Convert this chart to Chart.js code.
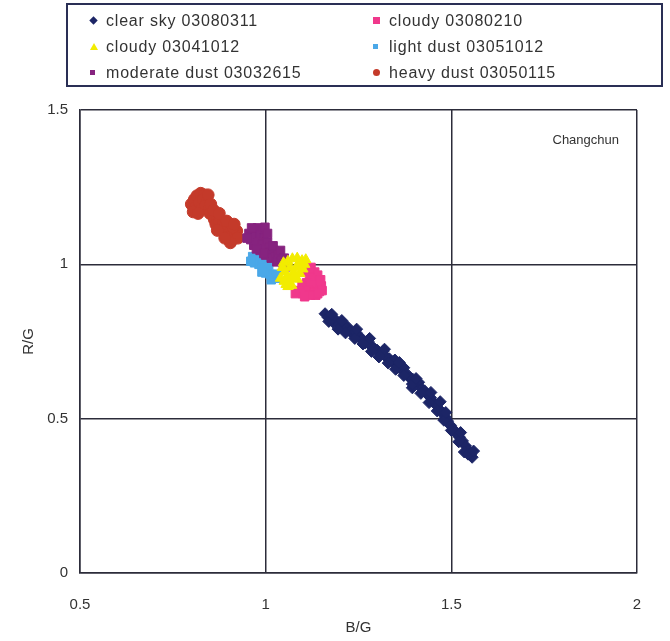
<!DOCTYPE html>
<html>
<head>
<meta charset="utf-8">
<script src="https://cdn.jsdelivr.net/npm/chart.js@4/dist/chart.umd.min.js"></script>
<style>
  body { margin: 0; background: #fff; }
  #wrap { position: relative; width: 670px; height: 641px; }
  #legend {
    position: absolute; left: 66px; top: 3px; width: 593px; height: 80px;
    border: 2px solid #2a2f55; box-sizing: content-box;
    font-family: "Liberation Sans", Arial, sans-serif; font-size: 16px; color: #333; letter-spacing: 0.8px;
  }
  .item { position: absolute; height: 18px; line-height: 18px; white-space: nowrap; }
  .mk { position: absolute; top: 5px; width: 7px; height: 7px; }
</style>
</head>
<body>
<div id="wrap">
  <canvas id="RatioChart" width="670" height="641"></canvas>
  <div id="legend"></div>
</div>
<script>
var seriesNames = ['clear sky 03080311', 'cloudy 03080210', 'cloudy 03041012', 'light dust 03051012', 'moderate dust 03032615', 'heavy dust 03050115'];
var seriesColors = ['#1c2566', '#f0388c', '#f2ec00', '#4aa8e8', '#86237f', '#c43a2a'];
var seriesStyles = ['rectRot', 'rect', 'triangle', 'rect', 'rect', 'circle'];
var seriesOrder = [0, 3, 1, 4, 2, 5];

// [B/G, R/G]
var clearSky = [[1.160,0.840],[1.168,0.828],[1.175,0.822],[1.182,0.812],[1.190,0.818],[1.198,0.805],[1.205,0.800],[1.212,0.792],[1.220,0.798],[1.228,0.782],[1.236,0.775],[1.244,0.778],[1.252,0.762],[1.260,0.758],[1.268,0.745],[1.276,0.750],[1.284,0.735],[1.292,0.728],[1.300,0.722],[1.308,0.712],[1.316,0.718],[1.324,0.700],[1.333,0.694],[1.340,0.685],[1.348,0.690],[1.356,0.668],[1.364,0.660],[1.372,0.665],[1.380,0.645],[1.388,0.632],[1.396,0.628],[1.404,0.612],[1.412,0.618],[1.420,0.598],[1.428,0.590],[1.436,0.578],[1.444,0.568],[1.452,0.552],[1.460,0.545],[1.468,0.530],[1.476,0.518],[1.484,0.505],[1.490,0.492],[1.498,0.478],[1.506,0.465],[1.514,0.452],[1.522,0.440],[1.530,0.428],[1.538,0.412],[1.546,0.398],[1.552,0.385],[1.556,0.375],[1.535,0.392],[1.470,0.555],[1.395,0.600],
  [1.170,0.815],[1.195,0.790],[1.215,0.778],[1.240,0.760],[1.262,0.742],[1.285,0.718],[1.305,0.700],[1.330,0.680],[1.350,0.660],[1.372,0.640],[1.395,0.612],[1.418,0.582],[1.440,0.552],[1.462,0.525],[1.480,0.495],[1.500,0.462],[1.520,0.425],[1.545,0.385],[1.560,0.395],[1.525,0.455],[1.485,0.520],[1.445,0.585],[1.405,0.630],[1.360,0.682],[1.320,0.725],[1.280,0.760],[1.245,0.790],[1.205,0.818],[1.178,0.838]];
var cloudyA = [[1.100,0.975],[1.112,0.985],[1.122,0.990],[1.132,0.975],[1.140,0.965],[1.118,0.960],[1.128,0.950],[1.145,0.945],[1.150,0.930],[1.138,0.925],[1.125,0.935],[1.110,0.940],[1.098,0.930],[1.090,0.915],[1.080,0.905],[1.100,0.905],[1.115,0.915],[1.130,0.910],[1.145,0.912],[1.135,0.900],[1.118,0.985],[1.148,0.950],[1.152,0.915],[1.140,0.905],[1.120,0.900],[1.105,0.895]];
var cloudyB = [[1.045,0.990],[1.052,0.975],[1.058,0.960],[1.050,0.945],[1.062,0.940],[1.070,0.955],[1.075,0.975],[1.082,0.990],[1.090,1.005],[1.098,1.012],[1.105,1.000],[1.100,0.985],[1.092,0.970],[1.085,0.952],[1.070,0.932],[1.060,0.928],[1.108,1.015],[1.048,1.005],[1.060,1.010],[1.072,1.018],[1.085,1.020],[1.095,0.995],[1.065,0.990],[1.078,0.965],[1.055,0.935],[1.040,0.955]];
var lightDust = [[0.965,1.025],[0.975,1.018],[0.970,1.005],[0.982,1.000],[0.990,1.010],[0.995,0.990],[1.005,0.985],[1.000,0.972],[1.012,0.968],[1.020,0.960],[1.028,0.955],[1.015,0.950],[0.985,1.030],[1.008,0.998],[0.960,1.010],[0.990,0.975],[1.030,0.968]];
var moderateDust = [[0.955,1.100],[0.965,1.112],[0.978,1.118],[0.990,1.110],[0.960,1.080],[0.972,1.090],[0.985,1.095],[0.995,1.085],[0.968,1.062],[0.980,1.070],[0.992,1.065],[1.005,1.072],[0.985,1.045],[0.998,1.050],[1.010,1.055],[1.000,1.030],[1.012,1.038],[1.022,1.045],[1.015,1.020],[1.028,1.025],[1.035,1.032],[1.030,1.008],[1.042,1.012],[1.048,1.000],[1.055,0.992],[1.020,1.060],[0.950,1.085],[0.962,1.118],[0.998,1.120],[1.005,1.100],[1.040,1.045],[1.050,1.020],[0.975,1.050],[0.995,1.035],[1.058,1.005]];
var heavyDust = [[0.800,1.195],[0.808,1.210],[0.815,1.222],[0.825,1.230],[0.835,1.225],[0.812,1.185],[0.822,1.200],[0.832,1.210],[0.842,1.205],[0.828,1.178],[0.838,1.190],[0.848,1.180],[0.850,1.165],[0.858,1.158],[0.862,1.145],[0.870,1.150],[0.866,1.130],[0.876,1.138],[0.885,1.128],[0.880,1.112],[0.890,1.100],[0.898,1.118],[0.905,1.105],[0.900,1.088],[0.910,1.080],[0.918,1.095],[0.922,1.108],[0.912,1.120],[0.805,1.170],[0.818,1.165],[0.845,1.225],[0.852,1.195],[0.860,1.175],[0.875,1.165],[0.895,1.140],[0.915,1.130],[0.925,1.085],[0.905,1.070],[0.890,1.085],[0.870,1.110]];

var xTicks = [0.5, 1, 1.5, 2];
var yTicks = [0, 0.5, 1, 1.5];
var siteName = 'Changchun';

var allSeries = [clearSky, cloudyA, cloudyB, lightDust, moderateDust, heavyDust];

var datasets = allSeries.map(function (pts, i) {
  return {
    label: seriesNames[i],
    data: pts.map(function (p) { return { x: p[0], y: p[1] }; }),
    backgroundColor: seriesColors[i],
    borderColor: seriesColors[i],
    pointStyle: seriesStyles[i],
    pointRadius: 6,
    borderWidth: 1,
    order: seriesOrder[i]
  };
});

// legend box
var legendEl = document.getElementById('legend');
seriesNames.forEach(function (name, i) {
  var col = i % 2, row = Math.floor(i / 2);
  var it = document.createElement('div');
  it.className = 'item';
  it.style.left = (col === 0 ? 22 : 305) + 'px';
  it.style.top = (7 + row * 26) + 'px';
  var mk = document.createElement('span');
  mk.className = 'mk';
  mk.style.left = '0px';
  mk.style.background = seriesColors[i];
  if (seriesStyles[i] === 'rectRot') mk.style.transform = 'rotate(45deg) scale(0.85)';
  if (seriesStyles[i] === 'circle') mk.style.borderRadius = '50%';
  if (seriesStyles[i] === 'triangle') {
    mk.style.background = 'none';
    mk.style.width = '0'; mk.style.height = '0';
    mk.style.borderLeft = '4px solid transparent';
    mk.style.borderRight = '4px solid transparent';
    mk.style.borderBottom = '7px solid ' + seriesColors[i];
  }
  if (i === 3 || i === 4) { mk.style.width = '5px'; mk.style.height = '5px'; mk.style.top = '6px'; }
  var tx = document.createElement('span');
  tx.textContent = name;
  tx.style.marginLeft = '16px';
  it.appendChild(mk);
  it.appendChild(tx);
  legendEl.appendChild(it);
});

var siteLabel = {
  id: 'siteLabel',
  afterDraw: function (chart) {
    var c = chart.ctx, a = chart.chartArea;
    c.save();
    c.font = '13px "Liberation Sans", Arial, sans-serif';
    c.fillStyle = '#333';
    c.textAlign = 'right';
    c.textBaseline = 'middle';
    c.fillText(siteName, a.right - 18, a.top + 30);
    c.restore();
  }
};

var gridColor = '#2c2c3a';
var tickFont = { size: 15, family: '"Liberation Sans", Arial, sans-serif' };
var ctx = document.getElementById('RatioChart');

var myChart = new Chart(ctx, {
  type: 'scatter',
  data: { datasets: datasets },
  plugins: [siteLabel],
  options: {
    responsive: false,
    animation: false,
    layout: { padding: { top: 110, right: 33, left: 0, bottom: 0 } },
    plugins: {
      legend: { display: false },
      tooltip: { enabled: false }
    },
    scales: {
      x: {
        type: 'linear',
        min: xTicks[0],
        max: xTicks[xTicks.length - 1],
        afterBuildTicks: function (s) { s.ticks = xTicks.map(function (v) { return { value: v }; }); },
        afterFit: function (s) { s.height = 68; },
        grid: { color: gridColor, lineWidth: 1.5, drawTicks: false },
        border: { color: gridColor, width: 1.5 },
        ticks: { padding: 23, color: '#333', font: tickFont, callback: function (v) { return String(v); } },
        title: { display: true, text: 'B/G', color: '#333', padding: { top: 4, bottom: 4 }, font: tickFont }
      },
      y: {
        type: 'linear',
        min: yTicks[0],
        max: yTicks[yTicks.length - 1],
        afterBuildTicks: function (s) { s.ticks = yTicks.map(function (v) { return { value: v }; }); },
        afterFit: function (s) { s.width = 80; },
        grid: { color: gridColor, lineWidth: 1.5, drawTicks: false },
        border: { color: gridColor, width: 1.5 },
        ticks: { padding: 12, color: '#333', font: tickFont, callback: function (v) { return String(v); } },
        title: { display: true, text: 'R/G', color: '#333', padding: { top: 20, bottom: 0 }, font: tickFont }
      }
    }
  }
});
</script>
</body>
</html>
